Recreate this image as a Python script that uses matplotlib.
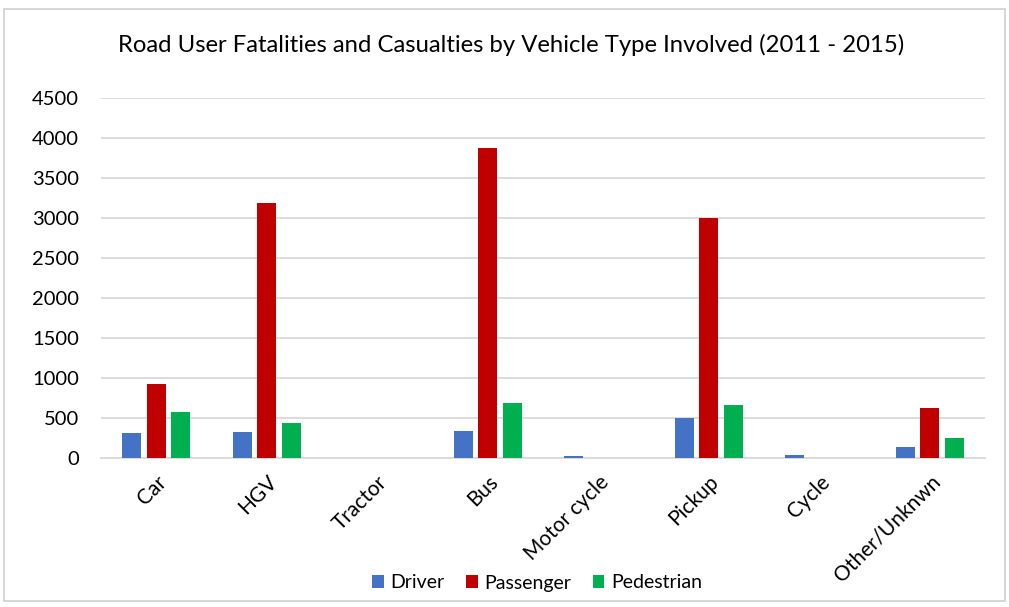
import matplotlib
matplotlib.use("Agg")
import matplotlib.pyplot as plt
import numpy as np
from matplotlib.patches import Rectangle

categories = ["Car", "HGV", "Tractor", "Bus", "Motor cycle", "Pickup", "Cycle", "Other/Unknwn"]
driver = [310, 326, 0, 339, 20, 500, 35, 140]
passenger = [925, 3185, 0, 3870, 0, 3000, 0, 627]
pedestrian = [571, 440, 0, 685, 0, 660, 0, 254]
series_names = ["Driver", "Passenger", "Pedestrian"]
colors = ["#4472C4", "#C00000", "#00B050"]
title = "Road User Fatalities and Casualties by Vehicle Type Involved (2011 - 2015)"

plt.rcParams['font.family'] = ['Lato', 'DejaVu Sans']

fig = plt.figure(figsize=(10.09, 6.07), dpi=100)
ax = fig.add_axes([101 / 1009, 1 - 458 / 607, 884 / 1009, 360 / 607])

x = np.arange(len(categories))
width = 0.175
offset = 0.222
for i, (vals, name, c) in enumerate(zip([driver, passenger, pedestrian], series_names, colors)):
    ax.bar(x + (i - 1) * offset, vals, width=width, color=c, label=name, zorder=3)

ax.set_xlim(-0.5, len(categories) - 0.5)
ax.set_ylim(0, 4500)
ax.set_yticks(np.arange(0, 4501, 500))
ax.yaxis.grid(True, color="#D9D9D9", linewidth=1.3, zorder=0)
for s in ["top", "right", "left"]:
    ax.spines[s].set_visible(False)
ax.spines["bottom"].set_color("#D9D9D9")
ax.spines["bottom"].set_linewidth(1.3)
ax.tick_params(axis="y", length=0, labelsize=14.5, colors="#000000", pad=16)
ax.tick_params(axis="x", length=0, labelsize=15, colors="#000000", pad=10)
ax.set_xticks(x)
ax.set_xticklabels(categories, rotation=45, ha="right", rotation_mode="anchor")

fig.text(511 / 1009, 1 - 45 / 607, title, ha="center", va="center", fontsize=17.2)

leg = fig.legend(loc="center", bbox_to_anchor=(537 / 1009, 1 - 583 / 607), ncol=3,
                 frameon=False, fontsize=14, handlelength=0.6, handleheight=0.6,
                 handletextpad=0.35, columnspacing=1.1)

fig.patches.append(Rectangle((4 / 1009, 1 - 601 / 607), 1001 / 1009, 592 / 607,
                             transform=fig.transFigure, fill=False,
                             edgecolor="#D0D0D0", linewidth=1.2))

fig.savefig("out.png", dpi=100, facecolor="white")
